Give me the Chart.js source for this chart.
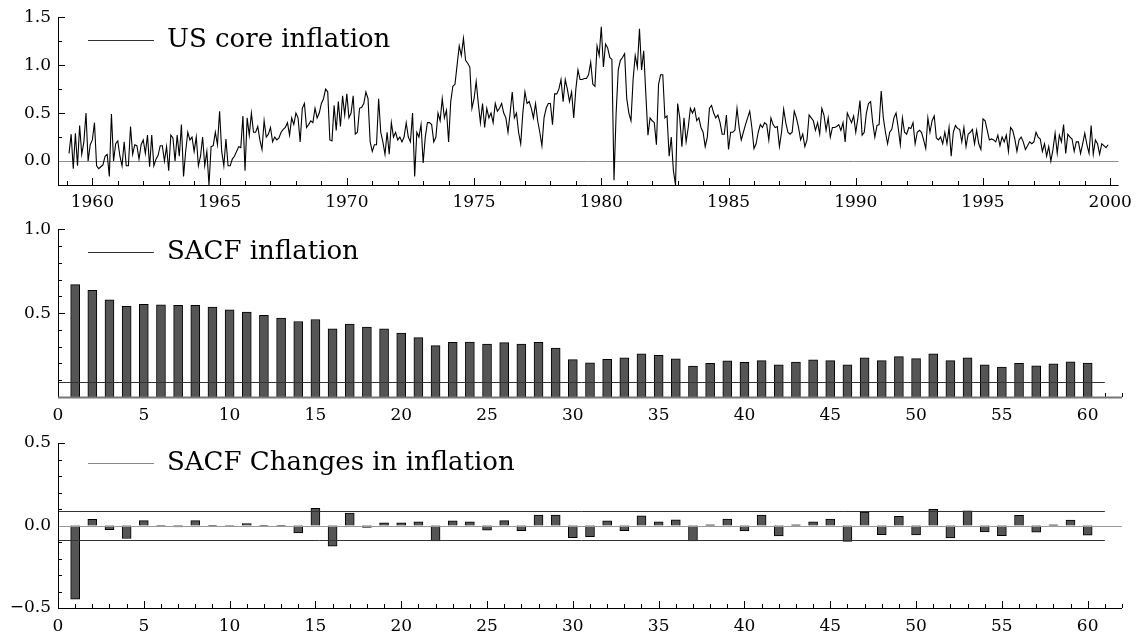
<!DOCTYPE html>
<html>
<head>
<meta charset="utf-8">
<script src="https://cdn.jsdelivr.net/npm/chart.js@4.4.0/dist/chart.umd.min.js"></script>
<style>
  html, body { margin: 0; padding: 0; background: #fff; }
  #wrap { position: relative; width: 1139px; height: 634px; overflow: hidden; }
  canvas { position: absolute; left: 0; }
</style>
</head>
<body>
<div id="wrap">
  <canvas id="inflChart" width="1139" height="212" style="top:0"></canvas>
  <canvas id="acfChart" width="1139" height="212" style="top:212px"></canvas>
  <canvas id="dacfChart" width="1139" height="210" style="top:424px"></canvas>
</div>
<script>
// monthly US core inflation, first value is Feb 1959
const startYear = 1959;
const startMonth = 2;
const inflation = [
  0.08, 0.28, -0.08, 0.29, -0.05, 0.37, 0.07, 0.20, 0.50, 0.00, 0.17,          // 1959
  0.22, 0.40, -0.05, -0.08, -0.06, -0.04, 0.05, 0.07, -0.16, 0.49, 0.00, 0.18,  // 1960
  0.21, 0.05, -0.05, 0.20, -0.05, -0.05, 0.36, 0.07, 0.17, 0.16, 0.02, 0.17,    // 1961
  0.22, 0.08, 0.27, -0.06, 0.27, -0.05, 0.02, 0.06, 0.16, 0.16, 0.00, 0.15,     // 1962
  -0.10, 0.27, 0.24, 0.00, 0.27, 0.05, 0.38, -0.16, 0.10, 0.30, 0.22, 0.25,     // 1963
  0.10, 0.25, -0.05, 0.05, 0.25, -0.05, 0.10, -0.25, 0.15, 0.16, 0.30, 0.17,    // 1964
  0.52, 0.10, -0.05, 0.23, -0.05, -0.05, 0.02, 0.05, 0.10, 0.15, 0.14, 0.47,    // 1965
  -0.10, 0.45, 0.27, 0.50, 0.30, 0.30, 0.36, 0.22, 0.12, 0.42, 0.25, 0.28,      // 1966
  0.35, 0.20, 0.25, 0.22, 0.24, 0.30, 0.33, 0.35, 0.40, 0.27, 0.45, 0.38,       // 1967
  0.50, 0.45, 0.20, 0.55, 0.60, 0.35, 0.38, 0.42, 0.40, 0.55, 0.45, 0.50,       // 1968
  0.60, 0.65, 0.75, 0.72, 0.22, 0.21, 0.58, 0.32, 0.62, 0.36, 0.68, 0.48,       // 1969
  0.70, 0.45, 0.50, 0.68, 0.28, 0.30, 0.55, 0.56, 0.60, 0.72, 0.65, 0.20,       // 1970
  0.10, 0.17, 0.17, 0.65, 0.30, 0.20, 0.07, 0.30, 0.07, 0.40, 0.25, 0.30,       // 1971
  0.22, 0.25, 0.20, 0.25, 0.40, 0.25, 0.20, 0.50, -0.16, 0.30, 0.25, 0.38,      // 1972
  -0.02, 0.25, 0.40, 0.40, 0.38, 0.20, 0.25, 0.50, 0.42, 0.65, 0.45, 0.53,      // 1973
  0.20, 0.62, 0.78, 0.80, 1.00, 1.20, 1.10, 1.28, 1.05, 1.02, 0.98, 0.55,       // 1974
  0.65, 0.83, 0.60, 0.40, 0.60, 0.35, 0.55, 0.45, 0.50, 0.40, 0.60, 0.52,       // 1975
  0.55, 0.60, 0.50, 0.45, 0.30, 0.50, 0.72, 0.45, 0.50, 0.30, 0.18, 0.50,       // 1976
  0.72, 0.60, 0.62, 0.55, 0.45, 0.60, 0.42, 0.30, 0.16, 0.45, 0.55, 0.60,       // 1977
  0.60, 0.38, 0.70, 0.70, 0.75, 0.85, 0.62, 0.85, 0.75, 0.62, 0.72, 0.45,       // 1978
  0.75, 0.95, 0.85, 0.85, 0.86, 0.86, 0.90, 1.03, 0.80, 0.78, 1.20, 1.10,       // 1979
  1.40, 0.98, 1.22, 1.18, 1.08, 1.06, -0.20, 0.50, 0.95, 1.05, 1.08, 1.12,      // 1980
  0.65, 0.50, 0.42, 0.85, 1.10, 0.98, 1.38, 0.95, 1.15, 0.70, 0.27, 0.45,       // 1981
  0.42, 0.40, 0.17, 0.80, 0.90, 0.90, 0.45, 0.47, 0.05, 0.25, -0.10, -0.25,     // 1982
  0.60, 0.45, 0.15, 0.45, 0.20, 0.35, 0.55, 0.50, 0.55, 0.42, 0.45, 0.35,       // 1983
  0.30, 0.15, 0.25, 0.55, 0.58, 0.50, 0.45, 0.48, 0.40, 0.28, 0.28, 0.48,       // 1984
  0.12, 0.30, 0.30, 0.32, 0.55, 0.35, 0.22, 0.30, 0.38, 0.45, 0.52, 0.35,       // 1985
  0.13, 0.18, 0.30, 0.38, 0.35, 0.40, 0.38, 0.22, 0.45, 0.38, 0.35, 0.36,       // 1986
  0.15, 0.30, 0.54, 0.40, 0.30, 0.28, 0.30, 0.52, 0.45, 0.35, 0.22, 0.28,       // 1987
  0.15, 0.22, 0.48, 0.45, 0.42, 0.32, 0.40, 0.28, 0.55, 0.48, 0.32, 0.45,       // 1988
  0.25, 0.35, 0.35, 0.36, 0.38, 0.32, 0.40, 0.20, 0.50, 0.45, 0.40, 0.47,       // 1989
  0.30, 0.45, 0.63, 0.27, 0.30, 0.50, 0.60, 0.62, 0.40, 0.25, 0.37, 0.38,       // 1990
  0.73, 0.45, 0.30, 0.18, 0.30, 0.33, 0.45, 0.50, 0.35, 0.17, 0.45, 0.30,       // 1991
  0.28, 0.35, 0.34, 0.40, 0.18, 0.30, 0.32, 0.30, 0.22, 0.13, 0.45, 0.30,       // 1992
  0.42, 0.47, 0.24, 0.22, 0.25, 0.18, 0.30, 0.18, 0.35, 0.05, 0.30, 0.37,       // 1993
  0.34, 0.33, 0.20, 0.35, 0.15, 0.28, 0.30, 0.33, 0.18, 0.32, 0.18, 0.12,       // 1994
  0.44, 0.42, 0.32, 0.22, 0.23, 0.22, 0.20, 0.27, 0.16, 0.25, 0.20, 0.27,       // 1995
  0.10, 0.35, 0.32, 0.23, 0.10, 0.22, 0.25, 0.20, 0.12, 0.16, 0.20, 0.18,       // 1996
  0.20, 0.30, 0.25, 0.23, 0.10, 0.18, 0.05, 0.15, 0.00, 0.12, 0.29, 0.08,       // 1997
  0.27, 0.20, 0.38, 0.08, 0.28, 0.25, 0.23, 0.10, 0.20, 0.20, 0.08, 0.18,       // 1998
  0.29, 0.17, 0.08, 0.37, 0.07, 0.22, 0.18, 0.07, 0.18, 0.16, 0.14, 0.17        // 1999
];
const yearTicks = [1960, 1965, 1970, 1975, 1980, 1985, 1990, 1995, 2000];
const inflTicks = [0.0, 0.5, 1.0, 1.5];

// sample autocorrelations, lags 1..60
const sacfInflation = [
  0.670, 0.636, 0.579, 0.541, 0.553, 0.549, 0.547, 0.547, 0.536, 0.520,
  0.506, 0.486, 0.470, 0.450, 0.462, 0.407, 0.435, 0.417, 0.407, 0.381,
  0.354, 0.306, 0.326, 0.328, 0.316, 0.324, 0.316, 0.326, 0.292, 0.223,
  0.204, 0.225, 0.233, 0.257, 0.249, 0.227, 0.184, 0.200, 0.215, 0.206,
  0.217, 0.192, 0.208, 0.221, 0.217, 0.192, 0.233, 0.217, 0.241, 0.229,
  0.257, 0.217, 0.233, 0.192, 0.178, 0.200, 0.186, 0.198, 0.210, 0.202
];
const sacfChanges = [
  -0.447, 0.037, -0.026, -0.079, 0.030, -0.003, -0.008, 0.030, -0.002, -0.006,
  0.012, -0.002, -0.002, -0.045, 0.104, -0.126, 0.075, -0.012, 0.016, 0.016,
  0.022, -0.094, 0.028, 0.022, -0.028, 0.030, -0.031, 0.063, 0.063, -0.073,
  -0.067, 0.028, -0.031, 0.059, 0.022, 0.035, -0.093, 0.004, 0.039, -0.033,
  0.063, -0.063, 0.004, 0.022, 0.039, -0.096, 0.081, -0.055, 0.055, -0.057,
  0.098, -0.075, 0.089, -0.039, -0.061, 0.061, -0.041, 0.004, 0.033, -0.059
];
const lagTicks = [0, 5, 10, 15, 20, 25, 30, 35, 40, 45, 50, 55, 60];
const acfTicks = [0.5, 1.0];
const dacfTicks = [-0.5, 0.0, 0.5];
const bandLevel = 0.09;

const serif = '"DejaVu Serif", serif';
const tickFont = { family: serif, size: 17 };

// axis lines, inward tick marks, reference lines and the in-plot legend
const framePlugin = {
  id: 'frame',
  beforeDatasetsDraw(chart, args, o) {
    const { ctx, chartArea: a, scales: { x, y } } = chart;
    ctx.save();
    ctx.strokeStyle = '#000';
    ctx.lineWidth = 1;
    ctx.beginPath();
    for (let v = Math.ceil(x.min / o.xStep) * o.xStep; v <= x.max + 1e-9; v += o.xStep) {
      const px = Math.round(x.getPixelForValue(v)) + 0.5;
      const major = Math.abs(v / o.xMajor - Math.round(v / o.xMajor)) < 1e-6;
      ctx.moveTo(px, a.bottom);
      ctx.lineTo(px, a.bottom - (major ? 7 : 4));
    }
    for (let v = Math.ceil(y.min / o.yStep - 1e-6) * o.yStep; v <= y.max + 1e-9; v += o.yStep) {
      const py = Math.round(y.getPixelForValue(v)) + 0.5;
      const major = Math.abs(v / o.yMajor - Math.round(v / o.yMajor)) < 1e-6;
      ctx.moveTo(a.left, py);
      ctx.lineTo(a.left + (major ? 7 : 4), py);
    }
    ctx.stroke();
    o.lines.filter(l => !l.above).forEach(l => drawRef(chart, l));
    ctx.restore();
  },
  afterDatasetsDraw(chart, args, o) {
    const { ctx, chartArea: a } = chart;
    ctx.save();
    o.lines.filter(l => l.above).forEach(l => drawRef(chart, l));
    // axes
    ctx.lineWidth = 1;
    ctx.strokeStyle = '#000';
    ctx.beginPath();
    ctx.moveTo(a.left + 0.5, a.top);
    ctx.lineTo(a.left + 0.5, a.bottom);
    ctx.stroke();
    ctx.strokeStyle = o.xAxisColor || '#000';
    ctx.lineWidth = o.xAxisWidth || 1;
    ctx.beginPath();
    ctx.moveTo(a.left, a.bottom + 0.5);
    ctx.lineTo(a.right, a.bottom + 0.5);
    ctx.stroke();
    // legend
    ctx.strokeStyle = o.legendColor;
    ctx.lineWidth = 1;
    ctx.beginPath();
    ctx.moveTo(88, o.legendY + 0.5);
    ctx.lineTo(154, o.legendY + 0.5);
    ctx.stroke();
    ctx.fillStyle = '#000';
    ctx.font = '26px ' + serif;
    ctx.textBaseline = 'alphabetic';
    ctx.fillText(o.legendText, 167, o.legendY + 7);
    ctx.restore();
  }
};

function drawRef(chart, l) {
  const { ctx, chartArea: a, scales: { x, y } } = chart;
  const py = Math.round(y.getPixelForValue(l.value)) + 0.5;
  const x0 = l.from === undefined ? a.left : x.getPixelForValue(l.from);
  const x1 = l.to === undefined ? a.right : x.getPixelForValue(l.to);
  ctx.strokeStyle = l.color;
  ctx.lineWidth = 1;
  ctx.beginPath();
  ctx.moveTo(x0, py);
  ctx.lineTo(x1, py);
  ctx.stroke();
}

function xAxis(min, max, ticks, pad, height) {
  return {
    type: 'linear', min: min, max: max, offset: false,
    grid: { display: false, drawTicks: false },
    border: { display: false },
    ticks: { padding: pad, color: '#000', font: tickFont, maxRotation: 0, autoSkip: false,
      callback: v => String(v) },
    afterBuildTicks: s => { s.ticks = ticks.map(v => ({ value: v })); },
    afterFit: s => { s.height = height; }
  };
}

function yAxis(min, max, ticks) {
  return {
    type: 'linear', min: min, max: max,
    grid: { display: false, drawTicks: false },
    border: { display: false },
    ticks: { padding: 7, color: '#000', font: tickFont, autoSkip: false,
      callback: v => (v < 0 ? '\u2212' : '') + Math.abs(v).toFixed(1) },
    afterBuildTicks: s => { s.ticks = ticks.map(v => ({ value: v })); },
    afterFit: s => { s.width = 58; }
  };
}

const baseOptions = {
  responsive: false,
  animation: false,
  events: []
};

// US core inflation
new Chart(document.getElementById('inflChart'), {
  type: 'line',
  data: {
    datasets: [{
      data: inflation.map((v, i) => ({ x: startYear + (startMonth - 1 + i) / 12, y: v })),
      borderColor: '#000',
      borderWidth: 1.1,
      pointRadius: 0,
      tension: 0,
      fill: false
    }]
  },
  options: {
    ...baseOptions,
    layout: { padding: { top: 17, right: 17, bottom: 0, left: 0 } },
    plugins: {
      legend: { display: false },
      tooltip: { enabled: false },
      frame: {
        xStep: 1, xMajor: 5, yStep: 0.25, yMajor: 0.5,
        lines: [{ value: 0, color: '#8c8c8c' }],
        legendText: 'US core inflation', legendY: 40, legendColor: '#333'
      }
    },
    scales: {
      x: xAxis(1958.65, 2000.33, yearTicks, 7, 27),
      y: yAxis(-0.25, 1.5, inflTicks)
    }
  },
  plugins: [framePlugin]
});

// SACF of inflation
new Chart(document.getElementById('acfChart'), {
  type: 'bar',
  data: {
    datasets: [{
      data: sacfInflation.map((v, i) => ({ x: i + 1, y: v })),
      backgroundColor: '#555555',
      borderColor: '#000',
      borderWidth: 1,
      barThickness: 9
    }]
  },
  options: {
    ...baseOptions,
    layout: { padding: { top: 17, right: 17, bottom: 0, left: 0 } },
    plugins: {
      legend: { display: false },
      tooltip: { enabled: false },
      frame: {
        xStep: 1, xMajor: 5, yStep: 0.1, yMajor: 0.5,
        lines: [{ value: bandLevel, color: '#333', from: 0, to: 61, above: true }],
        xAxisColor: '#777', xAxisWidth: 2,
        legendText: 'SACF inflation', legendY: 40, legendColor: '#333'
      }
    },
    scales: {
      x: xAxis(0, 62, lagTicks, 8, 27),
      y: yAxis(0, 1.0, acfTicks)
    }
  },
  plugins: [framePlugin]
});

// SACF of changes in inflation
new Chart(document.getElementById('dacfChart'), {
  type: 'bar',
  data: {
    datasets: [{
      data: sacfChanges.map((v, i) => ({ x: i + 1, y: v })),
      backgroundColor: '#555555',
      borderColor: '#000',
      borderWidth: 1,
      barThickness: 9
    }]
  },
  options: {
    ...baseOptions,
    layout: { padding: { top: 19, right: 17, bottom: 0, left: 0 } },
    plugins: {
      legend: { display: false },
      tooltip: { enabled: false },
      frame: {
        xStep: 1, xMajor: 5, yStep: 0.1, yMajor: 0.5,
        lines: [
          { value: 0, color: '#999', above: true },
          { value: bandLevel, color: '#333', from: 0, to: 61, above: true },
          { value: -bandLevel, color: '#333', from: 0, to: 61, above: true }
        ],
        legendText: 'SACF Changes in inflation', legendY: 39, legendColor: '#888'
      }
    },
    scales: {
      x: xAxis(0, 62, lagTicks, 8, 26),
      y: yAxis(-0.5, 0.5, dacfTicks)
    }
  },
  plugins: [framePlugin]
});
</script>
</body>
</html>
